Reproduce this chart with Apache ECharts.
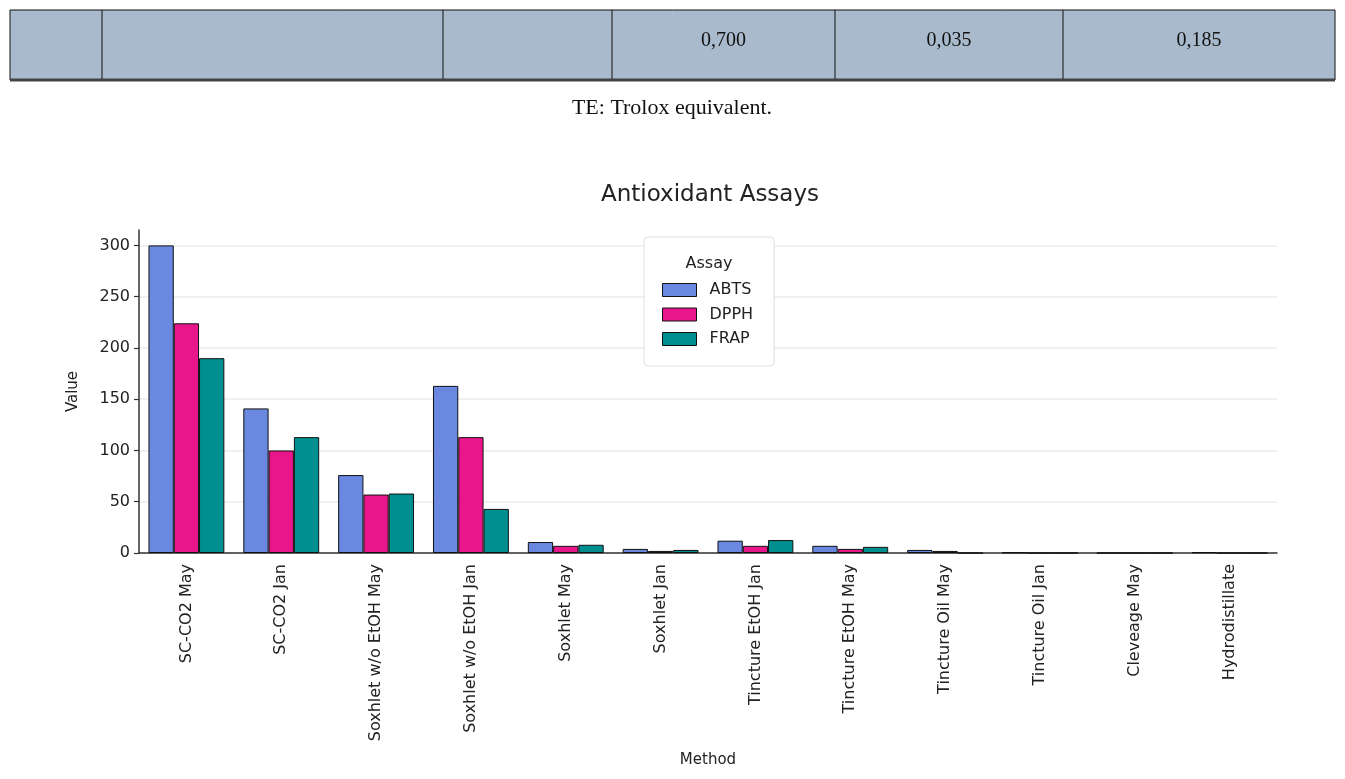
<!DOCTYPE html>
<html>
<head>
<meta charset="utf-8">
<script src="https://cdn.jsdelivr.net/npm/echarts@6/dist/echarts.min.js"></script>
<style>
  html, body { margin: 0; padding: 0; background: #fff; }
  #main { width: 1345px; height: 779px; }
</style>
</head>
<body>
<div id="main"></div>
<script>
// chart data
var methods = ['SC-CO2 May', 'SC-CO2 Jan', 'Soxhlet w/o EtOH May', 'Soxhlet w/o EtOH Jan',
    'Soxhlet May', 'Soxhlet Jan', 'Tincture EtOH Jan', 'Tincture EtOH May',
    'Tincture Oil May', 'Tincture Oil Jan', 'Cleveage May', 'Hydrodistillate'];
var abts = [300, 141, 76, 163, 10.7, 4, 12, 7, 3, 0.5, 0, 0.7];
var dpph = [224, 100, 57, 113, 7, 2, 7, 4, 2, 0, 0, 0];
var frap = [190, 113, 58, 43, 8, 3, 12.6, 6, 0, 0, 0, 0];
var yTicks = [0, 50, 100, 150, 200, 250, 300];

// table row above the chart
var tableCells = ['', '', '', '0,700', '0,035', '0,185'];
var tableCaption = 'TE: Trolox equivalent.';

var colors = {ABTS: '#6b88e0', DPPH: '#e8168a', FRAP: '#008f8f'};

var myChart = echarts.init(document.getElementById('main'));

// table geometry
var colEdges = [10, 102, 443, 612, 835, 1063, 1335];
var tableTop = 10, tableBottom = 80;

var graphics = [];
graphics.push({
    type: 'rect',
    shape: {x: colEdges[0], y: tableTop, width: colEdges[6] - colEdges[0], height: tableBottom - tableTop},
    style: {fill: '#a9bacc', stroke: '#111', lineWidth: 1}
});
for (var i = 1; i < colEdges.length - 1; i++) {
    graphics.push({
        type: 'line',
        shape: {x1: colEdges[i], y1: tableTop, x2: colEdges[i], y2: tableBottom},
        style: {stroke: '#111', lineWidth: 1}
    });
}
graphics.push({
    type: 'line',
    shape: {x1: colEdges[0], y1: tableBottom, x2: colEdges[6], y2: tableBottom},
    style: {stroke: '#444', lineWidth: 3}
});
for (var c = 0; c < tableCells.length; c++) {
    if (!tableCells[c]) continue;
    graphics.push({
        type: 'text',
        x: (colEdges[c] + colEdges[c + 1]) / 2,
        y: 41,
        style: {
            text: tableCells[c], fill: '#111',
            font: '20px "Liberation Serif", serif',
            align: 'center', verticalAlign: 'middle'
        }
    });
}
graphics.push({
    type: 'text',
    x: 672, y: 108,
    style: {
        text: tableCaption, fill: '#111',
        font: '22px "Liberation Serif", serif',
        align: 'center', verticalAlign: 'middle'
    }
});
// legend title
graphics.push({
    type: 'text',
    x: 709, y: 264,
    z: 200,
    style: {
        text: 'Assay', fill: '#222',
        font: '16px "DejaVu Sans", sans-serif',
        align: 'center', verticalAlign: 'middle'
    }
});

function barSeries(name, data) {
    return {
        name: name,
        type: 'bar',
        data: data,
        barGap: '0%',
        barCategoryGap: '20%',
        itemStyle: {color: colors[name], borderColor: '#111', borderWidth: 1},
        emphasis: {disabled: true}
    };
}

var option = {
    animation: false,
    textStyle: {fontFamily: 'DejaVu Sans'},
    title: {
        text: 'Antioxidant Assays',
        left: 705, top: 179, textAlign: 'center',
        textStyle: {fontSize: 23, fontWeight: 'normal', color: '#222', fontFamily: 'DejaVu Sans'}
    },
    legend: {
        data: ['ABTS', 'DPPH', 'FRAP'],
        orient: 'vertical',
        left: 644, top: 237,
        padding: [45, 21, 19, 18],
        itemWidth: 34, itemHeight: 13, itemGap: 8.5,
        icon: 'rect',
        itemStyle: {borderWidth: 1, borderColor: '#111'},
        backgroundColor: '#fff',
        borderColor: '#dedede', borderWidth: 1, borderRadius: 4,
        textStyle: {fontSize: 16, color: '#222', padding: [0, 0, 0, 8]},
        selectedMode: false
    },
    grid: {left: 139, right: 68, top: 230, bottom: 226},
    xAxis: {
        type: 'category',
        data: methods,
        name: 'Method',
        nameLocation: 'middle',
        nameGap: 200,
        nameTextStyle: {fontSize: 15, color: '#222'},
        axisLine: {lineStyle: {color: '#333', width: 1.5}},
        axisTick: {alignWithLabel: true, length: 5, lineStyle: {color: '#333', width: 1.2}},
        axisLabel: {rotate: 90, fontSize: 16, color: '#222', margin: 11, interval: 0}
    },
    yAxis: {
        type: 'value',
        min: 0, max: 315, interval: 50,
        name: 'Value',
        nameLocation: 'middle',
        nameGap: 58,
        nameTextStyle: {fontSize: 15, color: '#222'},
        axisLine: {show: true, lineStyle: {color: '#333', width: 1.5}},
        axisTick: {show: true, length: 5, customValues: yTicks, lineStyle: {color: '#333', width: 1.2}},
        axisLabel: {fontSize: 16, color: '#222', margin: 9, customValues: yTicks},
        splitLine: {show: true, lineStyle: {color: '#ebebeb', width: 1.5}}
    },
    series: [
        barSeries('ABTS', abts),
        barSeries('DPPH', dpph),
        barSeries('FRAP', frap)
    ],
    graphic: graphics
};

myChart.setOption(option);
</script>
</body>
</html>
